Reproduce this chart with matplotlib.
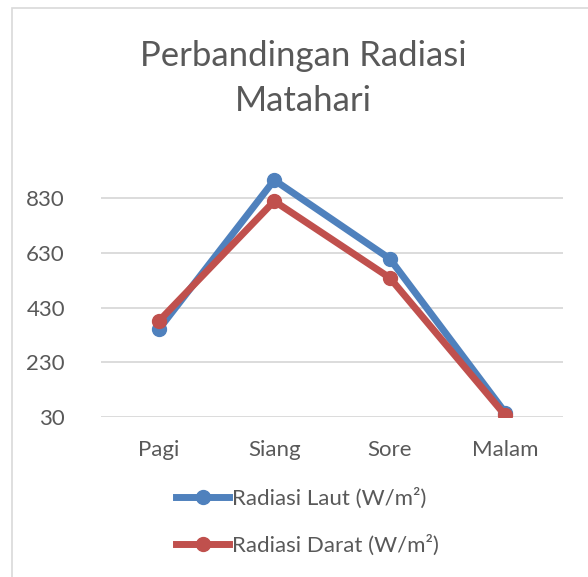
import matplotlib.pyplot as plt
from matplotlib import patches

waktu = ["Pagi", "Siang", "Sore", "Malam"]
radiasi_laut = [350, 897, 609, 45]
radiasi_darat = [380, 820, 539, 35]
label_laut = "Radiasi Laut (W/m²)"
label_darat = "Radiasi Darat (W/m²)"
y_ticks = [30, 230, 430, 630, 830]

plt.rcParams['font.family'] = ['Lato', 'DejaVu Sans']
teks = '#595959'

fig = plt.figure(figsize=(5.88, 5.77), dpi=100)
ax = fig.add_axes([0.1718, 0.2778, 0.7857, 0.4588])

# bingkai chart ala Excel
bingkai = patches.Rectangle((12 / 588, -0.05), 1.1, 1 - 8 / 577 + 0.05,
                            transform=fig.transFigure, fill=False,
                            edgecolor='#D9D9D9', linewidth=1.2, clip_on=False)
fig.add_artist(bingkai)

x = list(range(len(waktu)))
ax.plot(x, radiasi_laut, '-o', color='#4F81BD', linewidth=5, markersize=10,
        label=label_laut, solid_joinstyle='round', zorder=3)
ax.plot(x, radiasi_darat, '-o', color='#C0504D', linewidth=5, markersize=10,
        label=label_darat, solid_joinstyle='round', zorder=4)

ax.set_xlim(-0.5, 3.5)
ax.set_ylim(30, 1000)
ax.set_yticks(y_ticks)
ax.set_xticks(x)
ax.set_xticklabels(waktu)
ax.grid(axis='y', color='#D9D9D9', linewidth=1.3)
ax.set_axisbelow(True)
for s in ax.spines.values():
    s.set_visible(False)
ax.tick_params(length=0, labelsize=16, colors=teks)
ax.tick_params(axis='x', pad=17)
ax.tick_params(axis='y', pad=26)

fig.text(303 / 588, 1 - 56 / 577, "Perbandingan Radiasi", ha='center',
         va='center', fontsize=25, color=teks)
fig.text(303 / 588, 1 - 101 / 577, "Matahari", ha='center',
         va='center', fontsize=25, color=teks)

leg = fig.legend(loc='upper left', bbox_to_anchor=(156 / 588, 1 - 468 / 577),
                 frameon=False, fontsize=16, handlelength=2.4,
                 handletextpad=0.12, labelspacing=1.15, labelcolor=teks)

fig.savefig('out.png', dpi=100)
